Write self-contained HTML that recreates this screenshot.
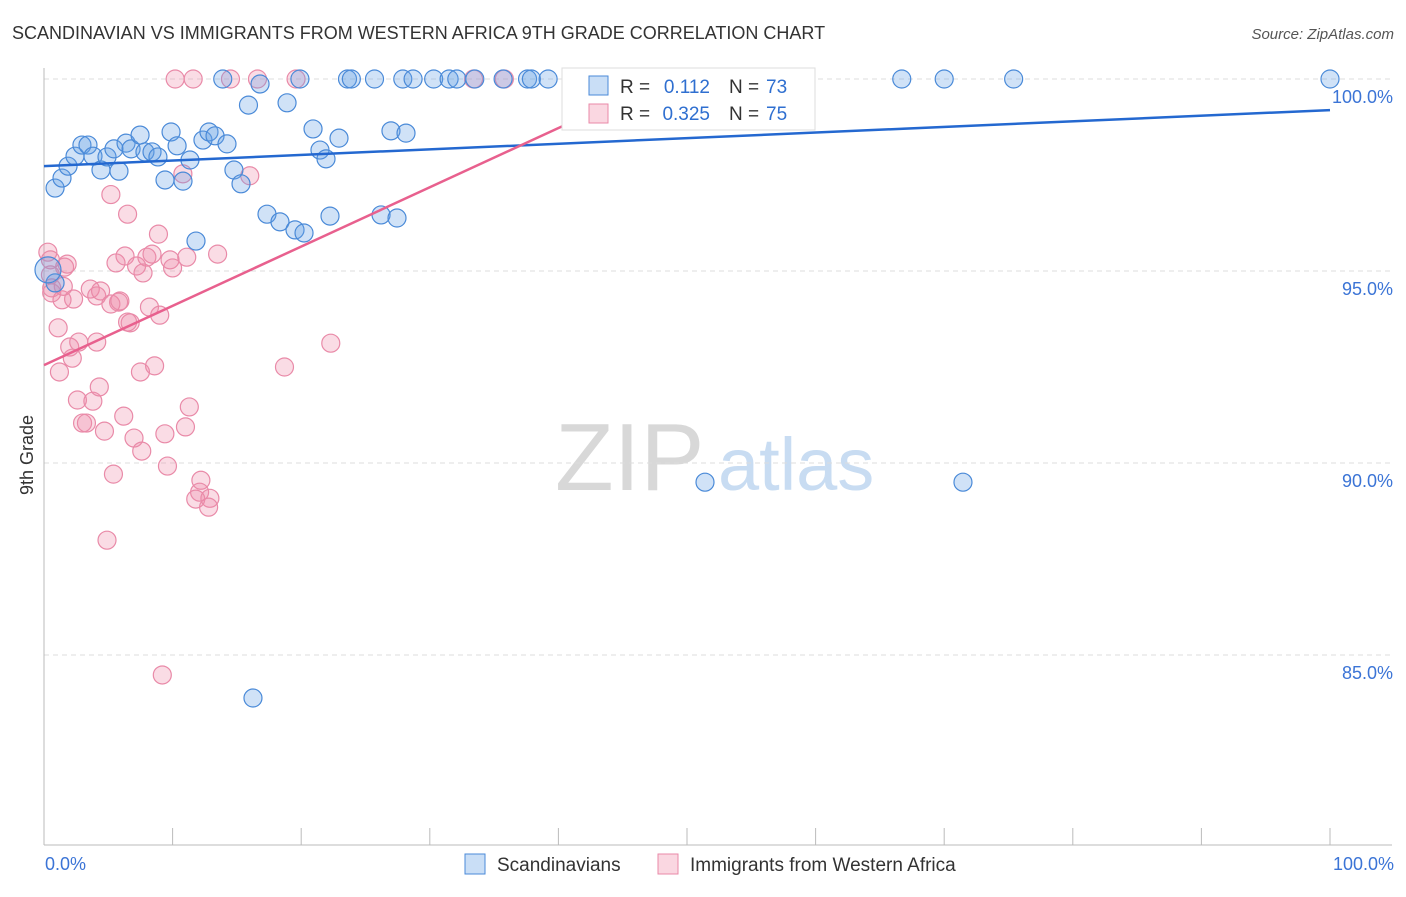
<!DOCTYPE html>
<html><head><meta charset="utf-8">
<style>
body{margin:0;background:#fff;font-family:"Liberation Sans",sans-serif;}
svg text{font-family:"Liberation Sans",sans-serif;}
</style></head>
<body>
<svg id="chart" width="1406" height="892" xmlns="http://www.w3.org/2000/svg">
<text x="12" y="39" font-size="18" fill="#333">SCANDINAVIAN VS IMMIGRANTS FROM WESTERN AFRICA 9TH GRADE CORRELATION CHART</text>
<text x="1394" y="39" font-size="15" fill="#555" text-anchor="end" font-style="italic">Source: ZipAtlas.com</text>
<g>
<text x="555" y="490" font-size="96" fill="#d8d8d8" font-family="Liberation Serif">ZIP</text>
<text x="718" y="490" font-size="74" fill="#c8dcf2">atlas</text>
</g>
<g id="grid"></g>
<g id="axes"></g>
<g id="pts"></g>
<g id="trend"></g>
<text x="33" y="455" font-size="18" fill="#333" transform="rotate(-90 33 455)" text-anchor="middle">9th Grade</text>
<g>
<rect x="562" y="68" width="253" height="62" fill="#fff" stroke="#ddd"/>
<rect x="589" y="76" width="19" height="19" fill="rgba(100,160,230,0.35)" stroke="#4a8ad8"/>
<rect x="589" y="104" width="19" height="19" fill="rgba(240,140,170,0.35)" stroke="#e98aa8"/>
<text x="620" y="93" font-size="19" fill="#333">R =</text>
<text x="710" y="93" font-size="19" fill="#2f6fd0" text-anchor="end">0.112</text>
<text x="729" y="93" font-size="19" fill="#333">N =</text>
<text x="766" y="93" font-size="19" fill="#2f6fd0">73</text>
<text x="620" y="120" font-size="19" fill="#333">R =</text>
<text x="710" y="120" font-size="19" fill="#2f6fd0" text-anchor="end">0.325</text>
<text x="729" y="120" font-size="19" fill="#333">N =</text>
<text x="766" y="120" font-size="19" fill="#2f6fd0">75</text>
</g>
<g>
<rect x="465" y="854" width="20" height="20" fill="rgba(100,160,230,0.35)" stroke="#4a8ad8"/>
<text x="497" y="871" font-size="19" fill="#333">Scandinavians</text>
<rect x="658" y="854" width="20" height="20" fill="rgba(240,140,170,0.35)" stroke="#e98aa8"/>
<text x="690" y="871" font-size="19" fill="#333">Immigrants from Western Africa</text>
</g>
</svg>
<script>
const yTicks=[100,95,90,85];
const yTickLabels=["100.0%","95.0%","90.0%","85.0%"];
const xTickLabels=["0.0%","100.0%"];
const blueX=[13.9,16.8,19.9,23.6,23.9,25.7,27.9,28.7,30.3,31.5,32.1,33.5,35.7,37.6,37.9,39.2,42.3,47.1,52.3,66.7,70.0,75.4,100,
15.9,18.9,
0.86,1.4,1.87,2.41,2.95,3.42,3.81,4.43,4.9,5.44,5.83,6.38,6.77,7.47,7.85,8.4,8.86,9.41,9.88,10.35,10.81,11.35,12.36,12.83,13.3,14.23,14.77,15.32,17.34,18.35,19.52,20.22,20.92,21.46,21.93,22.94,22.24,26.21,27.45,26.98,28.15,11.82,16.25,51.4,71.46,0.86,0.31];
const blueY=[100,99.87,100,100,100,100,100,100,100,100,100,100,100,100,100,100,100,100,100,100,100,100,100,
99.32,99.38,
97.16,97.42,97.73,97.99,98.28,98.28,97.99,97.63,97.97,98.18,97.6,98.33,98.18,98.54,98.1,98.1,97.97,97.37,98.62,98.26,97.34,97.89,98.41,98.62,98.52,98.31,97.63,97.27,96.48,96.28,96.07,95.99,98.7,98.15,97.92,98.46,96.43,96.46,96.38,98.65,98.59,95.78,83.88,89.5,89.5,94.69,95.03];
const pinkX=[10.2,11.6,14.5,16.6,19.6,33.4,35.8,41.4,16.0,10.8,5.2,6.5,8.9,0.3,0.5,1.8,1.6,0.6,0.6,1.4,2.3,3.6,4.1,4.4,5.6,6.3,5.8,5.2,5.9,7.2,8.0,8.4,7.7,9.8,10.0,11.1,13.5,8.2,6.7,6.5,9.0,1.1,2.0,2.7,4.1,2.2,1.2,7.5,8.6,18.7,22.3,2.6,3.8,4.3,6.2,3.0,3.3,4.7,7.0,7.6,9.4,11.3,11.0,5.4,9.6,12.2,12.1,11.8,12.9,12.8,4.9,9.2,0.5,1.5];
const pinkY=[100,100,100,100,100,100,100,100,97.48,97.53,96.99,96.48,95.96,95.49,95.29,95.18,95.1,94.56,94.43,94.25,94.27,94.53,94.35,94.48,95.21,95.39,94.19,94.14,94.22,95.13,95.36,95.44,94.95,95.29,95.08,95.36,95.44,94.06,93.65,93.67,93.85,93.52,93.02,93.15,93.15,92.73,92.37,92.37,92.53,92.5,93.12,91.64,91.61,91.98,91.22,91.04,91.04,90.83,90.65,90.31,90.76,91.46,90.94,89.71,89.92,89.55,89.24,89.06,89.08,88.85,87.99,84.48,94.9,94.6];
const blueTrend=[97.73,99.19];
const pinkTrend=[92.55,98.8];
const pinkTrendEndX=40.5;

const X0=44,X1=1330,Y100=79,PPU=38.4;
const xs=v=>X0+(X1-X0)*v/100;
const ys=v=>Y100+(100-v)*PPU;
const NS="http://www.w3.org/2000/svg";
function mk(t,a,parent){const e=document.createElementNS(NS,t);for(const k in a)e.setAttribute(k,a[k]);document.getElementById(parent).appendChild(e);return e;}
yTicks.forEach((t,i)=>{
 const l=mk('line',{x1:44,x2:1392,y1:ys(t),y2:ys(t),stroke:'#ddd','stroke-dasharray':'5,4'},'grid');
 
 
 const tx=mk('text',{x:1393,y:ys(t)+24,'font-size':18,fill:'#3b74d6','text-anchor':'end'},'axes');
 tx.textContent=yTickLabels[i];
 
 
});
let ax=mk('line',{x1:44,x2:44,y1:68,y2:845,stroke:'#bbb'},'axes');


ax=mk('line',{x1:44,x2:1392,y1:845,y2:845,stroke:'#bbb'},'axes');


for(let i=0;i<=10;i++){const t=mk('line',{x1:xs(i*10),x2:xs(i*10),y1:828,y2:845,stroke:'#bbb'},'axes');
 
 }
[[0,'start',45],[100,'end',1394]].forEach((d,i)=>{const t=mk('text',{x:d[2],y:870,'font-size':18,fill:'#3b74d6','text-anchor':d[1]},'axes');t.textContent=xTickLabels[i];
 
 });
pinkX.forEach((x,i)=>{const c=mk('circle',{cx:xs(x),cy:ys(pinkY[i]),r:9,fill:'rgba(240,140,170,0.3)',stroke:'#e98aa8','stroke-width':1.2},'pts');
 
 });
blueX.forEach((x,i)=>{const c=mk('circle',{cx:xs(x),cy:ys(blueY[i]),r:(i==blueX.length-1?13:9),fill:'rgba(100,160,230,0.3)',stroke:'#4a8ad8','stroke-width':1.2},'pts');
 
 });
let tl=mk('line',{x1:xs(0),y1:ys(blueTrend[0]),x2:xs(100),y2:ys(blueTrend[1]),stroke:'#2468d0','stroke-width':2.5},'trend');


tl=mk('line',{x1:xs(0),y1:ys(pinkTrend[0]),x2:xs(pinkTrendEndX),y2:ys(pinkTrend[1]),stroke:'#e8608e','stroke-width':2.5},'trend');


</script>
</body></html>
